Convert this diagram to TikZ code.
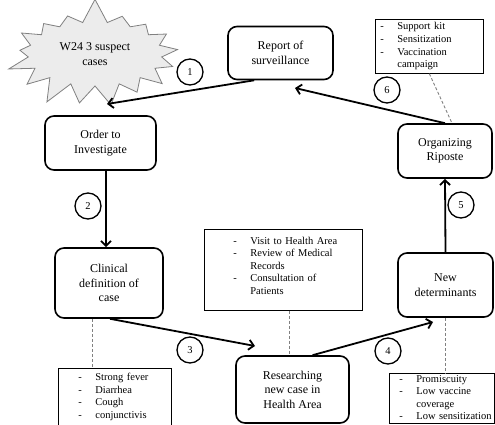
\documentclass[tikz,border=0pt]{standalone}
\usepackage{fontspec}
\setmainfont{Liberation Serif}
\usetikzlibrary{positioning,arrows.meta,shapes.symbols}
\newcommand{\notelist}[2]{\begin{tabular}{@{\hspace{#1}}l@{\hspace{13.5pt}}l@{}}#2\end{tabular}}
\begin{document}
\begin{tikzpicture}[x=1pt,y=-1pt,
  every node/.style={font=\fontsize{12}{14.5}\selectfont},
  stepbox/.style={draw,line width=1.6pt,rounded corners=9pt,align=center,inner sep=2pt},
  notebox/.style={draw,line width=.7pt,anchor=north west,align=left,inner sep=0pt,font=\fontsize{10.5}{12.6}\selectfont},
  alertburst/.style={starburst,starburst points=17,starburst point height=25pt,random starburst=7,draw=gray,fill=gray!15,line width=.8pt,align=center,minimum width=184pt,minimum height=114pt},
  num/.style={draw,circle,line width=1.3pt,minimum size=26pt,inner sep=0pt,font=\fontsize{10.5}{12}\selectfont},
  flow/.style={-{Straight Barb[length=5pt,width=10pt]},line width=1.8pt},
  link/.style={gray,line width=.9pt,dash pattern=on 3pt off 2pt}]
\useasboundingbox (0,0) rectangle (495,425);
% alert
\node[alertburst] (alert) at (95,54) {W24 3 suspect\\cases};
% steps of the cycle
\node[stepbox,minimum width=105pt,minimum height=53pt] (report) at (280.5,53) {Report of\\surveillance};
\node[stepbox,minimum width=111pt,minimum height=54pt] (order) at (100.5,143) {Order to\\Investigate};
\node[stepbox,minimum width=108pt,minimum height=70pt] (clinical) at (109,283) {Clinical\\definition of\\case};
\node[stepbox,minimum width=113pt,minimum height=67pt] (research) at (292.5,389.5) {Researching\\new case in\\Health Area};
\node[stepbox,minimum width=95pt,minimum height=64pt] (newdet) at (445.5,285) {New\\determinants};
\node[stepbox,minimum width=94pt,minimum height=54pt] (riposte) at (445,151) {Organizing\\Riposte};
% notes
\node[notebox,text width=108pt,minimum height=54pt] (resnote) at (375,19)
  {\notelist{5pt}{- & Support kit\\ - & Sensitization\\ - & Vaccination\\ & campaign}};
\node[notebox,text width=158pt,minimum height=81pt] (actnote) at (204,229)
  {\notelist{29pt}{- & Visit to Health Area\\ - & Review of Medical\\ & Records\\ - & Consultation of\\ & Patients\\[6pt]}};
\node[notebox,text width=113pt,minimum height=57pt] (symnote) at (58,368)
  {\notelist{20pt}{- & Strong fever\\ - & Diarrhea\\ - & Cough\\ - & conjunctivis}};
\node[notebox,text width=105pt,minimum height=50pt] (detnote) at (389,373)
  {\notelist{10pt}{- & Promiscuity\\ - & Low vaccine\\ & coverage\\ - & Low sensitization}};
% arrow tips
\coordinate (t1) at (107,104);
\coordinate (t3) at (255,346);
\coordinate (t4) at (433,322);
\coordinate (t6) at (295,88);
% numbers
\node[num] (n1) at (190,72) {1};
\node[num] (n2) at (88,206) {2};
\node[num] (n3) at (190,350) {3};
\node[num] (n4) at (388,351) {4};
\node[num] (n5) at (461,205) {5};
\node[num] (n6) at (387,90) {6};
% flow
\draw[flow] ([xshift=27pt]report.south west) -- (t1);
\draw[flow] ([xshift=5.5pt]order.south) -- ([xshift=5.5pt]order.south |- clinical.north);
\draw[flow] ([xshift=1pt]clinical.south) -- (t3);
\draw[flow] ([xshift=20pt]research.north) -- (t4);
\draw[flow] (newdet.north) -- (riposte.south);
\draw[flow] (riposte.north) -- (t6);
% links to notes
\draw[link] ([xshift=-17pt]clinical.south) -- ([xshift=-17pt]clinical.south |- symnote.north);
\draw[link] ([xshift=6pt]actnote.south) -- ([xshift=6pt]actnote.south |- research.north);
\draw[link] (newdet.south) -- (newdet.south |- detnote.north);
\draw[link] (resnote.south) -- ([xshift=7pt]riposte.north);
\end{tikzpicture}
\end{document}
